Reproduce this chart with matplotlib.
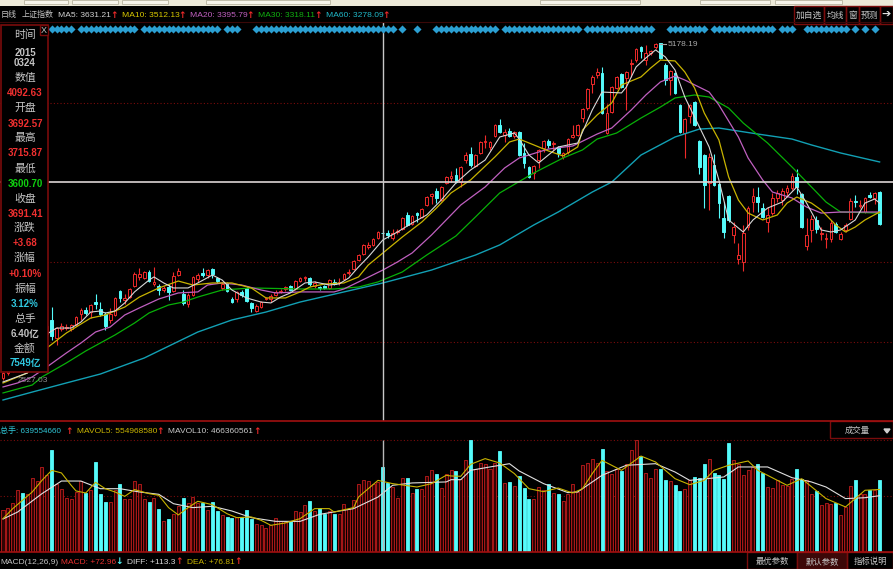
# 上证指数日线 K 线图, 下方成交量

import matplotlib
matplotlib.use('Agg')
import matplotlib.pyplot as plt
from matplotlib.patches import Rectangle
from matplotlib.transforms import blended_transform_factory

plt.rcParams['font.family'] = ['Liberation Sans', 'Noto Sans CJK SC', 'DejaVu Sans']

opens = [2562, 2601, 2624, 2687, 2765, 2741, 2781, 2812, 2859, 2905,
         3015, 2874, 2945, 2952, 2945, 2976, 3062, 3093, 3077, 3155,
         3101, 3062, 3015, 3054, 3241, 3171, 3194, 3280, 3351, 3343,
         3390, 3296, 3280, 3249, 3272, 3241, 3366, 3218, 3140, 3210,
         3335, 3382, 3366, 3413, 3343, 3265, 3304, 3179, 3179, 3234,
         3265, 3148, 3085, 3116, 3179, 3179, 3210, 3234, 3257, 3280,
         3257, 3319, 3343, 3343, 3280, 3272, 3280, 3265, 3312, 3304,
         3335, 3382, 3413, 3483, 3530, 3585, 3601, 3655, 3692.57, 3694,
         3655, 3702, 3726, 3835, 3765, 3850, 3819, 3913, 3983, 4022,
         3952, 4085, 4124, 4147, 4092, 4264, 4311, 4218, 4319, 4405,
         4366, 4452, 4538, 4460, 4491, 4452, 4483, 4319, 4210, 4163,
         4264, 4358, 4413, 4389, 4366, 4288, 4327, 4444, 4460, 4592,
         4670, 4858, 4928, 4944, 4475, 4639, 4827, 4936, 4905, 5014,
         5045, 5147, 5045, 5100, 5147, 5178, 5006, 4889, 4944, 4694,
         4475, 4608, 4717, 4413, 4303, 4085, 4225, 4077, 3811, 3983,
         3679, 3491, 3468, 3741, 3936, 3975, 3889, 3780, 3850, 3968,
         3952, 4014, 4046, 4132, 3999, 3593, 3718, 3796, 3686, 3647,
         3647, 3765, 3647, 3718, 3803, 3944, 3905, 3858, 3991, 3968,
         4014]
highs = [2609, 2656, 2671, 2765, 2781, 2796, 2859, 2874, 2952, 2984,
         3116, 2960, 2991, 2984, 2984, 3046, 3109, 3116, 3140, 3218,
         3155, 3077, 3109, 3194, 3249, 3218, 3265, 3390, 3421, 3398,
         3405, 3429, 3296, 3280, 3296, 3390, 3421, 3249, 3226, 3358,
         3382, 3421, 3413, 3421, 3351, 3312, 3312, 3194, 3241, 3249,
         3272, 3155, 3140, 3163, 3194, 3218, 3249, 3257, 3280, 3288,
         3327, 3351, 3358, 3351, 3319, 3280, 3288, 3335, 3335, 3343,
         3382, 3413, 3483, 3530, 3608, 3624, 3655, 3710, 3715.87, 3718,
         3726, 3726, 3819, 3858, 3835, 3858, 3889, 3983, 4007, 4046,
         4061, 4139, 4178, 4202, 4218, 4327, 4366, 4311, 4413, 4460,
         4413, 4546, 4585, 4507, 4514, 4491, 4491, 4397, 4218, 4225,
         4350, 4421, 4428, 4413, 4374, 4327, 4436, 4538, 4546, 4670,
         4827, 4928, 4983, 4991, 4702, 4842, 4920, 4944, 4959, 5053,
         5139, 5155, 5163, 5124, 5178.19, 5178, 5022, 4967, 4952, 4702,
         4592, 4702, 4725, 4421, 4311, 4319, 4311, 4085, 3936, 3991,
         3780, 3616, 3757, 3905, 4046, 4053, 3928, 3897, 4007, 4030,
         4046, 4069, 4163, 4194, 4007, 3811, 3835, 3827, 3741, 3694,
         3796, 3780, 3702, 3772, 3968, 3991, 3952, 3975, 4014, 4014,
         4022]
lows = [2546, 2585, 2609, 2671, 2702, 2726, 2773, 2796, 2843, 2890,
        2859, 2820, 2929, 2937, 2929, 2968, 3015, 3054, 3030, 3101,
        3046, 2937, 2991, 3046, 3155, 3140, 3187, 3272, 3327, 3335,
        3312, 3280, 3210, 3234, 3171, 3234, 3358, 3132, 3116, 3202,
        3312, 3351, 3343, 3343, 3304, 3249, 3234, 3148, 3155, 3194,
        3155, 3077, 3077, 3109, 3171, 3155, 3202, 3226, 3241, 3241,
        3249, 3312, 3319, 3280, 3265, 3249, 3257, 3257, 3288, 3288,
        3327, 3366, 3405, 3476, 3522, 3569, 3593, 3647, 3600.70, 3655,
        3640, 3686, 3718, 3749, 3757, 3780, 3811, 3905, 3921, 3928,
        3944, 4077, 4092, 4085, 4053, 4241, 4210, 4210, 4311, 4358,
        4343, 4444, 4475, 4405, 4444, 4436, 4296, 4202, 4124, 4116,
        4202, 4327, 4358, 4335, 4288, 4272, 4311, 4436, 4452, 4561,
        4655, 4788, 4905, 4624, 4467, 4631, 4819, 4827, 4655, 4913,
        5030, 5061, 5006, 5084, 5131, 5053, 4850, 4772, 4780, 4475,
        4280, 4553, 4530, 4155, 3889, 3874, 4061, 3811, 3655, 3780,
        3616, 3452, 3397, 3718, 3858, 3858, 3811, 3702, 3835, 3936,
        3913, 3975, 4030, 3999, 3733, 3561, 3624, 3694, 3640, 3577,
        3624, 3694, 3640, 3702, 3796, 3897, 3889, 3850, 3968, 3921,
        3757]
closes = [2601, 2640, 2656, 2741, 2718, 2781, 2843, 2859, 2937, 2968,
          2890, 2952, 2968, 2960, 2976, 3038, 3093, 3069, 3132, 3140,
          3062, 2968, 3062, 3187, 3187, 3187, 3257, 3374, 3374, 3390,
          3319, 3312, 3249, 3265, 3234, 3358, 3398, 3148, 3210, 3351,
          3366, 3366, 3405, 3374, 3319, 3296, 3241, 3155, 3234, 3210,
          3163, 3109, 3124, 3155, 3187, 3202, 3234, 3241, 3272, 3249,
          3319, 3343, 3351, 3296, 3304, 3265, 3265, 3327, 3296, 3312,
          3374, 3390, 3476, 3522, 3601, 3601, 3647, 3702, 3691.41, 3679,
          3694, 3710, 3811, 3757, 3827, 3835, 3882, 3975, 3999, 3968,
          4053, 4132, 4139, 4092, 4210, 4303, 4225, 4303, 4405, 4413,
          4405, 4538, 4483, 4483, 4452, 4483, 4303, 4241, 4132, 4218,
          4343, 4413, 4382, 4397, 4319, 4319, 4428, 4460, 4538, 4663,
          4819, 4913, 4952, 4631, 4631, 4834, 4913, 4834, 4952, 5022,
          5131, 5116, 5100, 5116, 5170, 5061, 4889, 4959, 4788, 4483,
          4585, 4694, 4538, 4210, 4069, 4288, 4069, 3928, 3702, 3796,
          3741, 3522, 3694, 3889, 3983, 3936, 3819, 3835, 3967, 4007,
          4022, 4046, 4139, 4053, 3741, 3679, 3803, 3725, 3694, 3655,
          3772, 3702, 3686, 3757, 3944, 3936, 3913, 3968, 3975, 4007,
          3764]

# 成交量, 单位百万手
volumes = [376, 394, 435, 554, 527, 512, 660, 628, 755, 681,
           909, 601, 562, 482, 474, 533, 630, 524, 548, 796,
           518, 444, 444, 548, 601, 468, 474, 628, 607, 474,
           444, 482, 385, 275, 293, 334, 406, 477, 435, 488,
           435, 435, 376, 444, 364, 326, 311, 305, 311, 311,
           370, 296, 252, 237, 216, 237, 305, 275, 266, 275,
           364, 355, 414, 450, 364, 391, 334, 364, 340, 334,
           423, 385, 465, 607, 642, 628, 607, 622, 755, 613,
           577, 482, 660, 660, 524, 562, 562, 672, 725, 690,
           568, 696, 725, 719, 651, 820, 992, 740, 793, 778,
           740, 790, 897, 613, 619, 586, 672, 568, 468, 468,
           577, 554, 601, 527, 518, 450, 518, 601, 533, 770,
           793, 829, 793, 912, 719, 696, 740, 719, 784, 903,
           992, 850, 704, 660, 740, 740, 642, 628, 592, 539,
           562, 636, 666, 660, 784, 829, 702, 687, 645, 971,
           820, 784, 687, 725, 755, 784, 702, 577, 568, 636,
           592, 586, 651, 737, 651, 636, 512, 542, 414, 435,
           423, 435, 326, 400, 586, 636, 518, 512, 554, 548,
           639.55]

ma5_days = [0, 5, 9, 11, 14, 16, 18, 20, 21, 23, 25, 27, 30, 31, 33, 35, 38, 40, 43, 45,
            47, 50, 53, 55, 57, 59, 62, 64, 67, 69, 71, 73, 75, 78, 81, 84, 87, 90, 93, 96,
            99, 102, 105, 106, 108, 110, 114, 118, 121, 123, 127, 128, 130, 132, 134, 136,
            138, 140, 143, 145, 147, 149, 152, 154, 157, 160, 163, 165, 168, 170, 172, 175,
            177, 179, 180]
ma5_vals = [2531, 2601, 2905, 2952, 2952, 2999, 3077, 3085, 3069, 3085, 3148, 3234, 3327, 3351,
            3304, 3265, 3265, 3304, 3366, 3327, 3249, 3187, 3155, 3148, 3194, 3226, 3304, 3312,
            3288, 3296, 3343, 3429, 3507, 3640, 3702, 3772, 3835, 3952, 4085, 4186, 4264, 4444,
            4475, 4428, 4303, 4241, 4366, 4397, 4655, 4795, 4788, 4834, 4991, 5061, 5124, 5069,
            4967, 4756, 4522, 4366, 4108, 3796, 3702, 3796, 3889, 3936, 4054, 3928, 3718, 3702,
            3718, 3796, 3928, 3960, 3928]

ma10_days = [0, 5, 9, 13, 18, 21, 25, 28, 32, 36, 39, 43, 47, 51, 54, 58, 61, 63, 66, 70,
             73, 75, 78, 82, 86, 89, 92, 96, 101, 104, 106, 109, 112, 115, 118, 119, 122, 125,
             127, 131, 133, 135, 138, 140, 142, 144, 147, 149, 151, 153, 156, 159, 161, 163,
             166, 168, 171, 173, 175, 177, 180]
ma10_vals = [2523, 2601, 2796, 2913, 3030, 3054, 3116, 3194, 3265, 3319, 3288, 3304, 3304, 3265,
             3187, 3187, 3234, 3272, 3296, 3304, 3351, 3444, 3538, 3663, 3780, 3889, 4007, 4108,
             4288, 4405, 4428, 4382, 4335, 4296, 4366, 4499, 4616, 4710, 4850, 4913, 4983, 5045,
             5038, 4952, 4827, 4631, 4421, 4132, 3952, 3850, 3796, 3835, 3928, 3975, 3928, 3874,
             3757, 3702, 3741, 3796, 3858]

ma20_days = [0, 3, 6, 9, 13, 16, 19, 22, 25, 28, 32, 36, 40, 42, 45, 49, 53, 56, 61, 68,
             70, 73, 78, 81, 84, 88, 91, 94, 99, 103, 106, 112, 117, 122, 125, 129, 132, 135,
             138, 140, 145, 147, 151, 153, 156, 158, 162, 165, 168, 172, 180]
ma20_vals = [2492, 2523, 2570, 2648, 2757, 2835, 2921, 2960, 3054, 3109, 3179, 3226, 3234, 3288,
             3304, 3288, 3249, 3226, 3234, 3234, 3257, 3312, 3405, 3468, 3538, 3679, 3796, 3913,
             4054, 4202, 4280, 4350, 4374, 4467, 4514, 4655, 4772, 4874, 4920, 4889, 4795, 4694,
             4444, 4280, 4108, 4014, 3968, 3897, 3850, 3858, 3858]

ma30_days = [0, 6, 8, 13, 17, 23, 27, 30, 34, 37, 40, 45, 51, 61, 68, 73, 77, 82, 87, 93,
             97, 102, 109, 115, 119, 122, 126, 131, 135, 138, 142, 145, 149, 152, 157, 162,
             166, 169, 172, 180]
ma30_vals = [2445, 2507, 2570, 2679, 2773, 2898, 2991, 3070, 3132, 3155, 3194, 3249, 3265, 3257,
             3257, 3272, 3312, 3390, 3522, 3671, 3819, 4007, 4163, 4280, 4343, 4428, 4475, 4592,
             4678, 4749, 4772, 4756, 4670, 4553, 4397, 4210, 4054, 3936, 3858, 3850]

ma60_days = [0, 6, 13, 20, 29, 40, 47, 54, 61, 78, 88, 97, 102, 109, 114, 121, 125, 131, 138,
             143, 147, 155, 162, 166, 172, 180]
ma60_vals = [2390, 2452, 2523, 2593, 2718, 2921, 3015, 3077, 3155, 3304, 3405, 3522, 3601, 3757,
             3858, 4014, 4092, 4303, 4444, 4506, 4514, 4467, 4428, 4382, 4319, 4249]

mavol5_days = [0, 2, 4, 6, 8, 10, 12, 14, 15, 17, 19, 21, 23, 25, 27, 30, 32, 34, 36, 38, 40,
               43, 46, 48, 51, 53, 55, 58, 61, 64, 67, 68, 72, 73, 77, 80, 85, 88, 91, 92, 94,
               96, 99, 102, 105, 108, 111, 114, 117, 119, 121, 123, 127, 131, 134, 138, 141,
               144, 146, 149, 153, 155, 161, 164, 169, 173, 177, 180]
mavol5_vals = [296, 385, 459, 533, 636, 725, 702, 592, 542, 524, 619, 562, 533, 494, 554, 518,
               503, 394, 329, 394, 450, 420, 340, 305, 311, 281, 237, 258, 296, 385, 385, 355,
               394, 488, 636, 607, 577, 607, 681, 675, 672, 778, 829, 790, 696, 562, 536, 568,
               524, 562, 696, 814, 725, 852, 799, 651, 598, 636, 725, 770, 808, 725, 592, 651,
               474, 400, 548, 554.97]

mavol10_days = [0, 3, 8, 12, 16, 20, 24, 28, 32, 35, 39, 43, 47, 51, 56, 61, 65, 72, 77, 80,
                84, 91, 92, 94, 96, 100, 104, 106, 111, 116, 118, 123, 128, 134, 138, 141, 148,
                151, 157, 162, 166, 169, 173, 177, 180]
mavol10_vals = [293, 355, 518, 630, 630, 562, 562, 533, 512, 429, 394, 406, 364, 305, 272, 272,
                334, 385, 488, 592, 613, 622, 642, 642, 725, 755, 784, 719, 607, 527, 533, 681,
                770, 784, 710, 636, 666, 755, 755, 660, 622, 577, 474, 482, 500]

# 顶部的信号菱形, 每段是连续的交易日
signal_runs = [(10, 13), (14, 14), (16, 27), (29, 36), (37, 40), (41, 44), (46, 48), (52, 68),
               (69, 80), (82, 82), (85, 85), (89, 101), (103, 113), (114, 118), (120, 133),
               (137, 144), (146, 149), (150, 158), (160, 162), (165, 168), (169, 173),
               (175, 175), (177, 177), (179, 179)]

price_grid = [4710, 3468, 2843]
volume_grid = [990, 500]

crosshair_day = 78
crosshair_price = 4092.63

RED = '#ee2a2a'
CYAN = '#55fbfb'
DARK = '#7a0c0c'
GREY = '#c4c4c4'
W, H = 893, 569


def day_pos(px):
    return (px - 3) / 4.87


def pane(top, bottom):
    ax = fig.add_axes([0, 1 - bottom / H, 1, (bottom - top) / H])
    ax.set_facecolor('black')
    ax.set_xlim(day_pos(0), day_pos(W))
    ax.axis('off')
    return ax


fig = plt.figure(figsize=(W / 100, H / 100), dpi=100, facecolor='black')

ax_k = pane(22, 421)
ax_k.set_ylim(2226, 5342)
ax_vol = pane(421, 552)
ax_vol.set_ylim(0, 1163)

days = list(range(len(closes)))
colors = [CYAN if c < o else RED for o, c in zip(opens, closes)]

for y in price_grid:
    ax_k.axhline(y, color=DARK, lw=0.8, ls=(0, (1, 2)), zorder=1)
for y in volume_grid:
    ax_vol.axhline(y, color=DARK, lw=0.8, ls=(0, (1, 2)), zorder=1)

# K线
ax_k.vlines(days, lows, highs, colors=colors, lw=0.8, zorder=2)
bottoms = [min(o, c) for o, c in zip(opens, closes)]
spans = [max(abs(c - o), 6) for o, c in zip(opens, closes)]
faces = [CYAN if c == CYAN else 'black' for c in colors]
ax_k.bar(days, spans, bottom=bottoms, width=0.56, color=faces, edgecolor=colors, lw=0.7, zorder=3)

ax_k.plot(ma60_days, ma60_vals, color='#12a0b4', lw=1.0, zorder=4)
ax_k.plot(ma30_days, ma30_vals, color='#08b008', lw=0.9, zorder=4)
ax_k.plot(ma20_days, ma20_vals, color='#c060c0', lw=0.9, zorder=4)
ax_k.plot(ma10_days, ma10_vals, color='#c8b400', lw=0.9, zorder=4)
ax_k.plot(ma5_days, ma5_vals, color='#d8d8d8', lw=0.8, zorder=4)

# 成交量
vol_faces = [CYAN if c == CYAN else '#300404' for c in colors]
vol_edges = [CYAN if c == CYAN else '#c01c1c' for c in colors]
ax_vol.bar(days, volumes, width=0.62, color=vol_faces, edgecolor=vol_edges, lw=0.6, zorder=2)
ax_vol.plot(mavol10_days, mavol10_vals, color='#e0e0e0', lw=0.8, zorder=3)
ax_vol.plot(mavol5_days, mavol5_vals, color='#c8b400', lw=0.8, zorder=3)

# 十字线
ax_k.axhline(crosshair_price, color='#dcd4d4', lw=1.2, zorder=5)
ax_k.axvline(crosshair_day, color='#c8c8c8', lw=1.0, zorder=5)
ax_vol.vlines(crosshair_day, 0, 992, color='#b8b8b8', lw=1.0, zorder=4)

signal_days = []
for start, end in signal_runs:
    signal_days += list(range(start, end + 1))
ax_k.scatter(signal_days, [0.9825] * len(signal_days), marker='D', s=17, color='#2b9fd2', lw=0,
             transform=blended_transform_factory(ax_k.transData, ax_k.transAxes), zorder=6)

# 界面部分用像素坐标
ui = fig.add_axes([0, 0, 1, 1], zorder=5)
ui.set_xlim(0, W)
ui.set_ylim(H, 0)
ui.axis('off')


def label(x, y, s, color=GREY, size=6.1, ha='left', **kw):
    ui.text(x, y, s, color=color, fontsize=size, ha=ha, va='center', **kw)


def arrow(x, y, s='↑', color=RED):
    ui.text(x, y, s, color=color, fontsize=6.5, ha='center', va='center', family='DejaVu Sans',
            fontweight='bold')


def box(x0, y0, x1, y1, edge=DARK, face='none', lw=1.0):
    ui.add_patch(Rectangle((x0, y0), x1 - x0, y1 - y0, edgecolor=edge, facecolor=face, lw=lw))


# 顶部工具条
box(0, 0, W, 5.5, edge='none', face='#ece9d8')
for x0, x1 in [(24, 68), (72, 118), (122, 168), (206, 330), (540, 640), (700, 770), (775, 842)]:
    box(x0, 0, x1, 4, edge='#b8b4a0', face='#f6f4ea', lw=0.6)
ui.plot([0, W], [22, 22], color='#3a0808', lw=0.8)

label(1, 15, '日线', size=5.8)
label(22, 15, '上证指数', size=5.8)
header = [(58, 'MA5: 3631.21', '#d0d0d0', 114), (122, 'MA10: 3512.13', '#d8c800', 182),
          (190, 'MA20: 3395.79', '#c060c0', 250), (258, 'MA30: 3318.11', '#10b010', 318),
          (326, 'MA60: 3278.09', '#20b8c8', 386)]
for x, s, c, ax_x in header:
    label(x, 15, s, color=c)
    arrow(ax_x, 15)

for x0, x1, s in [(794, 824, '加自选'), (824, 846, '均线'), (846, 859, '窗'), (859, 880, '预测')]:
    box(x0, 5.5, x1, 24)
    label((x0 + x1) / 2, 15, s, ha='center', size=6.3)
box(880, 5.5, W, 24)
ui.text(886, 15, '➔', color='#e0e0e0', ha='center', va='center', fontsize=8, family='DejaVu Sans')

# 左侧数据窗
box(0.5, 25, 48, 372, edge=DARK, face='black', lw=1.2)
box(40, 25, 48, 35, edge=DARK, face='black', lw=1.0)
label(44, 30, 'X', size=6.5, ha='center')
panel_rows = [(35, '时间', GREY), (53, '2015', GREY), (63, '0324', GREY), (78, '数值', GREY),
              (93, '4092.63', '#f03030'), (108, '开盘', GREY), (124, '3692.57', '#f03030'),
              (138, '最高', GREY), (153, '3715.87', '#f03030'), (169, '最低', GREY),
              (184, '3600.70', '#10d010'), (199, '收盘', GREY), (214, '3691.41', '#f03030'),
              (228, '涨跌', GREY), (243, '+3.68', '#f03030'), (258, '涨幅', GREY),
              (274, '+0.10%', '#f03030'), (289, '振幅', GREY), (304, '3.12%', '#30c8e0'),
              (319, '总手', GREY), (334, '6.40亿', GREY), (349, '金额', GREY),
              (363, '7549亿', '#30c8e0')]
for y, s, c in panel_rows:
    if s[0] > '\u2e80':
        label(25, y, s, color=c, size=7.8, ha='center')
    else:
        label(25, y, s, color=c, size=7.0, ha='center', fontweight='bold')

label(668, 44, '5178.19', color='#a8a8a8', size=6)
ui.plot([659, 666], [44, 44], color='#a8a8a8', lw=0.8)
label(18, 380, '2527.03', color='#8c8c8c', size=6)

# 成交量标题
ui.plot([0, W], [421, 421], color='#a01010', lw=1.2)
ui.plot([0, W], [552, 552], color='#a01010', lw=1.2)
label(0, 431, '总手: 639554660', color='#30c8d8', size=5.8)
arrow(69, 431)
label(77, 431, 'MAVOL5: 554968580', color='#c8b400', size=6)
arrow(160, 431)
label(168, 431, 'MAVOL10: 466360561', color='#c8c8c8', size=6)
arrow(257, 431)

box(830, 421, W, 438)
label(857, 431, '成交量', ha='center', size=6)
ui.fill([884, 890, 887], [429, 429, 433], color='#d0d0d0')

# 底部指标栏
label(0, 562, 'MACD(12,26,9)', size=6)
label(61, 562, 'MACD: +72.96', color='#e83030', size=6)
arrow(119, 562, '↓', CYAN)
label(127, 562, 'DIFF: +113.3', color='#d8d8d8', size=6)
arrow(179, 562)
label(187, 562, 'DEA: +76.81', color='#c8b400', size=6)
arrow(238, 562)

box(747, 552, 797, 569)
box(797, 552, 847, 569, face='#3c0808')
box(847, 552, W, 569)
label(772, 562, '最优参数', ha='center', size=6)
label(822, 562, '默认参数', ha='center', size=6)
label(870, 562, '指标说明', ha='center', size=6)

fig.savefig('out.png', dpi=100, facecolor='black')
